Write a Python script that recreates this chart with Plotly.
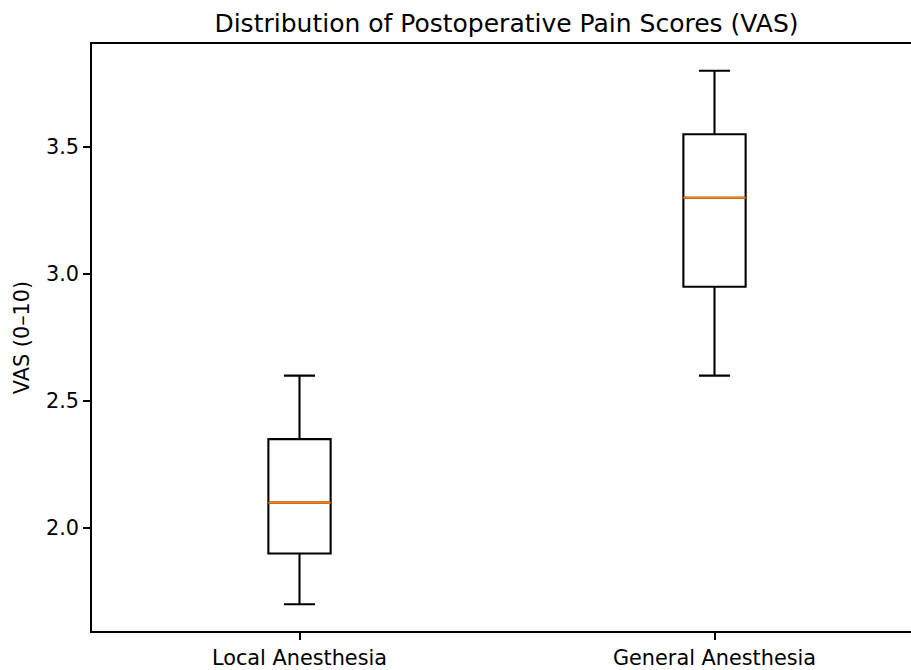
import plotly.graph_objects as go

categories = ["Local Anesthesia", "General Anesthesia"]
positions = [1, 2]
lower_whisker = [1.7, 2.6]
q1 = [1.9, 2.95]
median = [2.1, 3.3]
q3 = [2.35, 3.55]
upper_whisker = [2.6, 3.8]

box_width = 0.15
font_family = "DejaVu Sans"
tick_size = 20.8
title_size = 25

fig = go.Figure()
fig.add_trace(go.Box(
    x=positions, q1=q1, median=median, q3=q3,
    lowerfence=lower_whisker, upperfence=upper_whisker,
    width=box_width, whiskerwidth=0.5,
    line=dict(color="black", width=2.1),
    fillcolor="rgba(0,0,0,0)",
    boxpoints=False, showlegend=False, hoverinfo="skip",
))
for p, m in zip(positions, median):
    fig.add_trace(go.Scatter(
        x=[p - box_width / 2, p + box_width / 2], y=[m, m],
        mode="lines", line=dict(color="#ff7f0e", width=2.1),
        showlegend=False, hoverinfo="skip",
    ))

fig.update_layout(
    width=911, height=670,
    margin=dict(l=92, r=0, t=44, b=35, pad=0),
    paper_bgcolor="white", plot_bgcolor="white",
    font=dict(family=font_family, size=tick_size, color="black"),
    title=dict(text="Distribution of Postoperative Pain Scores (VAS)",
               x=506.5 / 911, xref="container", xanchor="center",
               y=1 - 23 / 670, yref="container", yanchor="middle",
               font=dict(family=font_family, size=title_size, color="black")),
)
fig.update_xaxes(
    range=[0.5, 0.5 + 819 / 415], tickvals=positions, ticktext=categories,
    showgrid=False, zeroline=False, showline=True, linecolor="black", linewidth=1.7,
    mirror=True, ticks="outside", ticklen=7, tickcolor="black", tickwidth=1.7,
    tickfont=dict(family=font_family, size=tick_size, color="black"),
)
fig.update_yaxes(
    range=[1.595, 3.905], tickvals=[2.0, 2.5, 3.0, 3.5], ticktext=["2.0", "2.5", "3.0", "3.5"],
    showgrid=False, zeroline=False, showline=True, linecolor="black", linewidth=1.7,
    mirror=False, ticks="outside", ticklen=7, tickcolor="black", tickwidth=1.7,
    tickfont=dict(family=font_family, size=tick_size, color="black"),
    title=dict(text="VAS (0–10)", font=dict(family=font_family, size=tick_size, color="black"), standoff=11),
)

fig.write_html("out.html", config={"displayModeBar": False},
               post_script="document.body.style.margin='0';document.body.style.overflow='hidden';")
